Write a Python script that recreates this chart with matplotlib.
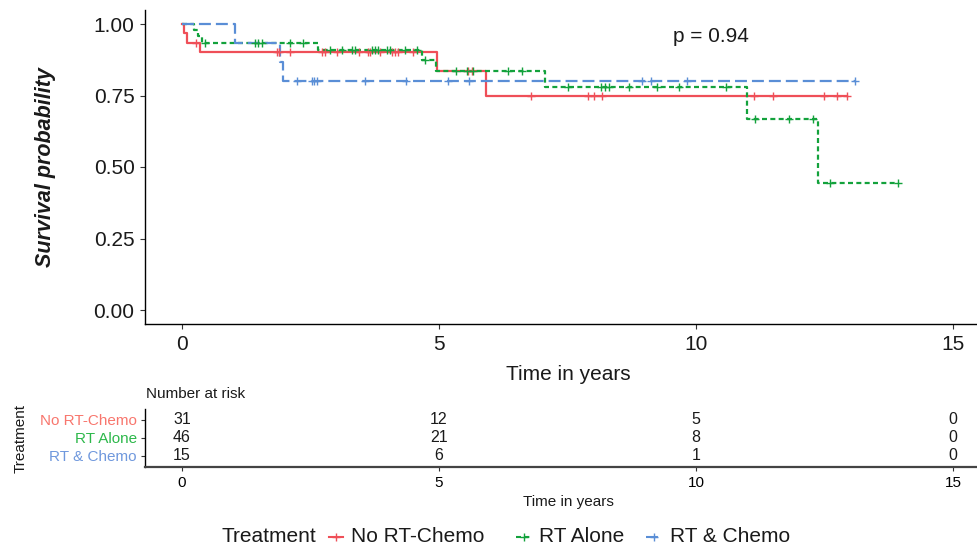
import matplotlib
matplotlib.use("Agg")
import matplotlib.pyplot as plt
import numpy as np
from matplotlib.lines import Line2D

plt.rcParams['font.family'] = ['Liberation Sans', 'DejaVu Sans']
plt.rcParams['lines.scale_dashes'] = False

# ---------------- data ----------------
groups = ["No RT-Chemo", "RT Alone", "RT & Chemo"]

red_times = [0.0, 0.04, 0.10, 0.35, 4.97, 5.91]
red_surv = [1.0, 0.968, 0.935, 0.903, 0.834, 0.750]
red_end = 12.93
red_cens = [0.27, 1.85, 1.89, 2.10, 2.72, 2.78, 3.02, 3.44, 3.62, 3.66, 3.85,
            4.08, 4.14, 4.21, 4.50, 5.57, 5.64, 6.79, 7.89, 8.02, 8.18,
            11.12, 11.49, 12.49, 12.75, 12.93]

green_times = [0.0, 0.24, 0.31, 0.38, 2.64, 4.66, 4.95, 7.06, 10.99, 12.38]
green_surv = [1.0, 0.978, 0.957, 0.935, 0.909, 0.874, 0.834, 0.778, 0.667, 0.444]
green_end = 13.93
green_cens = [0.45, 1.42, 1.47, 1.55, 2.10, 2.36, 2.88, 3.11, 3.30, 3.37, 3.69,
              3.75, 3.82, 3.98, 4.05, 4.34, 4.57, 4.73, 5.34, 5.54, 5.67, 6.35,
              6.62, 7.51, 8.16, 8.23, 8.31, 8.69, 9.24, 9.66, 10.58, 11.15,
              11.80, 12.28, 12.60, 13.93]

blue_times = [0.0, 1.03, 1.91, 1.97]
blue_surv = [1.0, 0.933, 0.867, 0.800]
blue_end = 13.09
blue_cens = [2.23, 2.52, 2.57, 2.62, 3.56, 4.36, 5.18, 5.58, 8.94, 9.13, 9.83, 13.09]

risk_times = [0, 5, 10, 15]
risk_red = [31, 12, 5, 0]
risk_green = [46, 21, 8, 0]
risk_blue = [15, 6, 1, 0]

p_text = "p = 0.94"

# ---------------- styles ----------------
line_colors = ["#EF4F58", "#13A23C", "#5A8ED6"]
text_colors = ["#F8766D", "#2DB84B", "#6F98DD"]
styles = ["-", (0, (3.6, 2.4)), (0, (8.6, 3.6))]

W, H = 977, 552
fig = plt.figure(figsize=(W / 100, H / 100), dpi=100)

xl = (-0.72, 15.75)
px_per_year = 51.4
x0_px = 182
left = (x0_px + xl[0] * px_per_year) / W
width = (xl[1] - xl[0]) * px_per_year / W

# main axes
main_top_px, main_bot_px = 9.7, 324.3
ax = fig.add_axes([left, 1 - main_bot_px / H, width, (main_bot_px - main_top_px) / H])
ax.set_xlim(*xl)
ax.set_ylim(-0.05, 1.05)

data = [
    (red_times, red_surv, red_end, red_cens),
    (green_times, green_surv, green_end, green_cens),
    (blue_times, blue_surv, blue_end, blue_cens),
]

for (t, s, end, cens), lc, ls in zip(data, line_colors, styles):
    xs = list(t) + [end]
    ys = list(s) + [s[-1]]
    ax.step(xs, ys, where='post', color=lc, lw=1.6, linestyle=ls, zorder=3)
    idx = np.searchsorted(np.array(t), np.array(cens), side='right') - 1
    cy = np.array(s)[idx]
    ax.plot(cens, cy, linestyle='none', marker='+', color=lc, ms=6, mew=1.0, zorder=4)

ax.text(10.3, 0.958, p_text, ha='center', va='center', fontsize=15, color='#1a1a1a')

for sp in ['top', 'right']:
    ax.spines[sp].set_visible(False)
for sp in ['left', 'bottom']:
    ax.spines[sp].set_linewidth(1.0)
    ax.spines[sp].set_color('black')
ax.set_xticks([0, 5, 10, 15])
ax.set_yticks([0, 0.25, 0.5, 0.75, 1.0])
ax.set_yticklabels(["0.00", "0.25", "0.50", "0.75", "1.00"])
ax.tick_params(axis='both', labelsize=15, length=3.5, width=0.8, color='#333333',
               labelcolor='#1a1a1a', pad=4)
ax.set_xlabel("Time in years", fontsize=15, labelpad=8, color='#1a1a1a')
ax.set_ylabel("Survival probability", fontsize=15.5, fontweight='bold', fontstyle='italic',
              labelpad=27, color='#1a1a1a')

# risk table axes
tab_top_px, tab_bot_px = 409.3, 467.3
tx = fig.add_axes([left, 1 - tab_bot_px / H, width, (tab_bot_px - tab_top_px) / H])
tx.set_xlim(*xl)
tx.set_ylim(3.63, 0.41)
for row, vals in enumerate([risk_red, risk_green, risk_blue], start=1):
    for tt, v in zip(risk_times, vals):
        tx.text(tt, row, str(v), ha='center', va='center', fontsize=11.5, color='#1a1a1a')
tx.set_yticks([1, 2, 3])
tx.set_yticklabels(groups)
for lab, c in zip(tx.get_yticklabels(), text_colors):
    lab.set_color(c)
tx.set_xticks(risk_times)
for sp in ['top', 'right']:
    tx.spines[sp].set_visible(False)
tx.spines['left'].set_linewidth(1.0)
tx.spines['bottom'].set_linewidth(1.6)
tx.spines['bottom'].set_color('#444444')
tx.tick_params(axis='both', labelsize=11, length=3, width=0.8, color='#333333', pad=3)
tx.set_xlabel("Time in years", fontsize=11, labelpad=4, color='#1a1a1a')
tx.set_ylabel("Treatment", fontsize=11, labelpad=9, color='#1a1a1a')

fig.text(146 / W, 1 - 394 / H, "Number at risk", fontsize=11, ha='left', va='center',
         color='#1a1a1a')

# bottom legend
ly = 1 - 537 / H
fig.text(221 / W, ly, "Treatment", fontsize=15, ha='left', va='center', color='#1a1a1a')
keys = [(329, 343, 351), (516, 531, 539), (646, 662, 670)]
for (k0, k1, tx0), lc, ls, g in zip(keys, line_colors, styles, groups):
    fig.add_artist(Line2D([k0 / W, k1 / W], [ly, ly], color=lc, lw=1.5, linestyle=ls,
                          transform=fig.transFigure))
    fig.add_artist(Line2D([(k0 + k1) / 2 / W], [ly], color=lc, marker='+', ms=6, mew=1.0,
                          linestyle='none', transform=fig.transFigure))
    fig.text(tx0 / W, ly, g, fontsize=15, ha='left', va='center', color='#1a1a1a')

fig.savefig("out.png", dpi=100)
